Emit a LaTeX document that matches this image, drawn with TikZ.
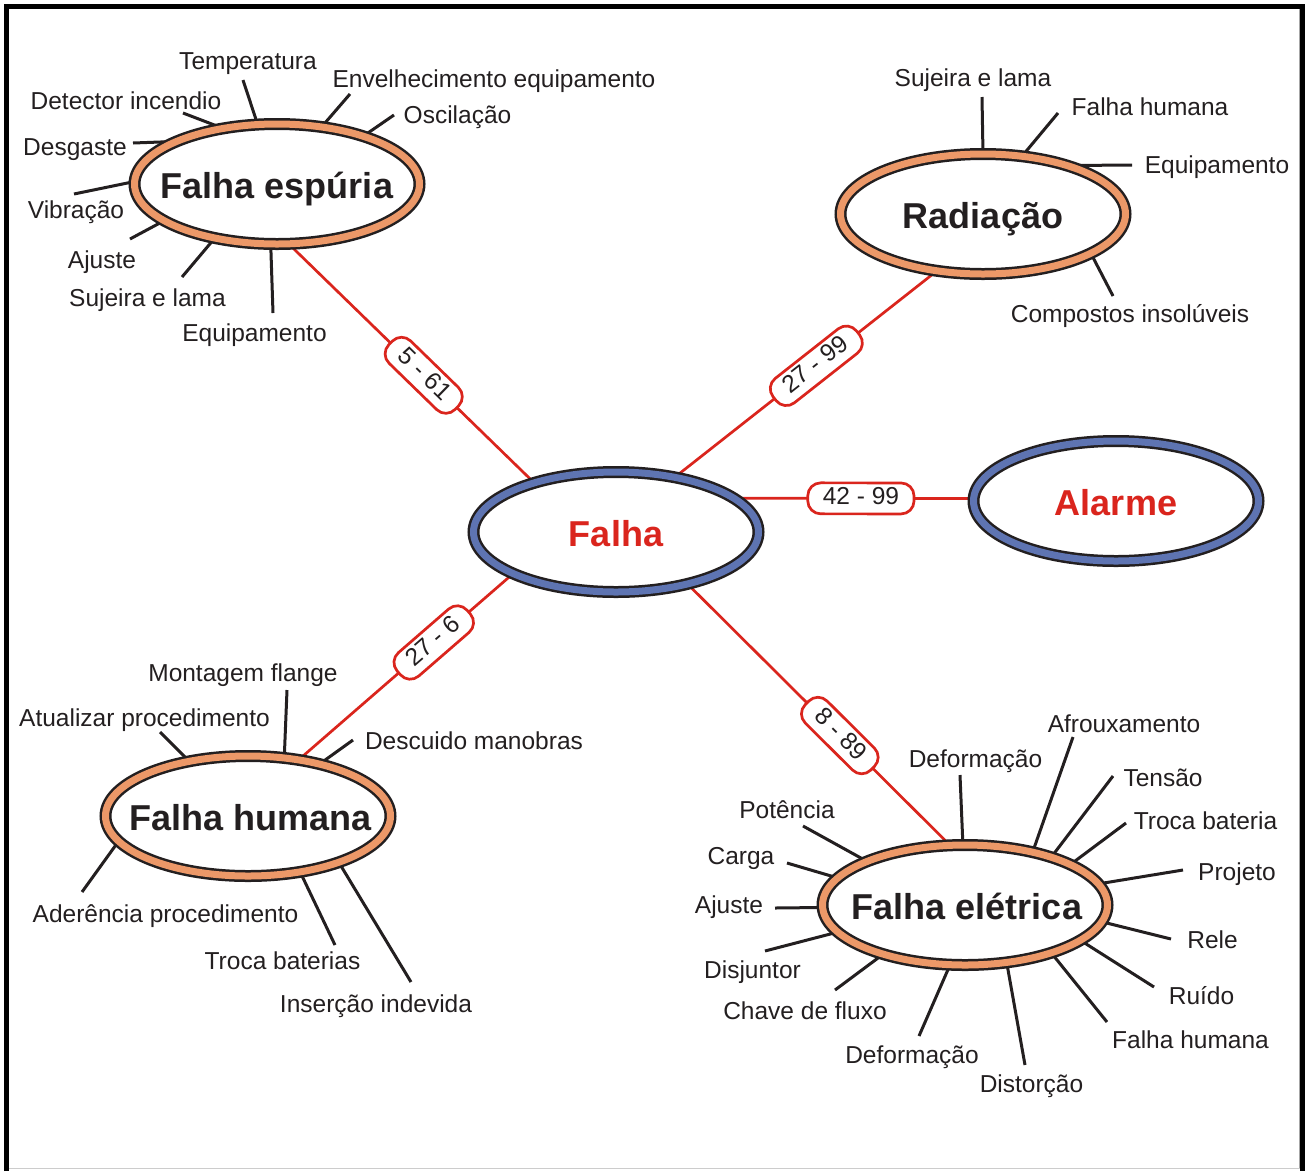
\documentclass[tikz,border=0pt]{standalone}
\usepackage{fontspec}
\setmainfont{Liberation Sans}
\usetikzlibrary{backgrounds,shapes.geometric}
\definecolor{ored}{RGB}{218,37,29}
\definecolor{oorange}{RGB}{236,152,104}
\definecolor{oblue}{RGB}{94,116,178}
\definecolor{oink}{RGB}{35,31,32}
\tikzset{
  hub/.style={ellipse, draw=oink, line width=2.5pt, double distance=7pt, fill=white,
    minimum width=285pt, minimum height=120pt, inner sep=0pt, outer sep=0pt,
    text height=29pt, text depth=0pt, font=\fontsize{36pt}{40pt}\selectfont\bfseries},
  hubor/.style={hub, double=oorange, text=oink},
  hubbl/.style={hub, double=oblue, text=ored},
  leaf/.style={font=\fontsize{24.5pt}{29pt}\selectfont, text=oink, inner sep=0pt,
    text height=17.5pt, text depth=5pt},
  spoke/.style={draw=oink, line width=3pt},
  link/.style={draw=ored, line width=2.7pt},
  tag/.style={draw=ored, line width=2.7pt, fill=white, rounded corners=13pt,
    font=\fontsize{24.5pt}{29pt}\selectfont, text=oink, inner xsep=15pt, inner ysep=0pt,
    minimum height=31pt, text height=17.5pt, text depth=5pt, sloped},
}
\begin{document}
\begin{tikzpicture}[x=1pt,y=-1pt]
\useasboundingbox (0,0) rectangle (1309,1171);
% hubs
\node[hubor] (fe)  at (277,184)  {\makebox[0pt]{Falha espúria}};
\node[hubor] (rad) at (983,214)  {\makebox[0pt]{Radiação}};
\node[hubbl] (fa)  at (616,532)  {\makebox[0pt]{Falha}};
\node[hubbl] (al)  at (1116,501) {\makebox[0pt]{Alarme}};
\node[hubor] (fh)  at (248,816)  {\makebox[0pt]{\hspace{5pt}Falha humana}};
\node[hubor] (fel) at (965,905)  {\makebox[0pt]{\hspace{4pt}Falha elétrica}};
% leaves of Falha espuria
\node[leaf] (fe-l1) at (248,63)  {Temperatura};
\node[leaf] (fe-l2) at (494,81)  {Envelhecimento equipamento};
\node[leaf] (fe-l3) at (457.5,117) {Oscilação};
\node[leaf] (fe-l4) at (126,103) {Detector incendio};
\node[leaf] (fe-l5) at (75,149)  {Desgaste};
\node[leaf] (fe-l6) at (76,212)  {Vibração};
\node[leaf] (fe-l7) at (102,262) {Ajuste};
\node[leaf] (fe-l8) at (147.5,300) {Sujeira e lama};
\node[leaf] (fe-l9) at (254.5,335) {Equipamento};
% leaves of Radiacao
\node[leaf] (rad-l1) at (973,80)   {Sujeira e lama};
\node[leaf] (rad-l2) at (1150,109) {Falha humana};
\node[leaf] (rad-l3) at (1217,167) {Equipamento};
\node[leaf] (rad-l4) at (1130,316) {Compostos insolúveis};
% leaves of Falha humana
\node[leaf] (fh-l1) at (243,675)   {Montagem flange};
\node[leaf] (fh-l2) at (144.5,720) {Atualizar procedimento};
\node[leaf] (fh-l3) at (474,743)   {Descuido manobras};
\node[leaf] (fh-l4) at (165.5,916) {Aderência procedimento};
\node[leaf] (fh-l5) at (282.5,963) {Troca baterias};
\node[leaf] (fh-l6) at (376,1006)  {Inserção indevida};
% leaves of Falha eletrica
\node[leaf] (fel-l1)  at (975.5,761) {Deformação};
\node[leaf] (fel-l2)  at (787,812)   {Potência};
\node[leaf] (fel-l3)  at (741,858)   {Carga};
\node[leaf] (fel-l4)  at (729,907)   {Ajuste};
\node[leaf] (fel-l5)  at (752.5,972) {Disjuntor};
\node[leaf] (fel-l6)  at (805,1013)  {Chave de fluxo};
\node[leaf] (fel-l7)  at (912,1057)  {Deformação};
\node[leaf] (fel-l8)  at (1124,726)  {Afrouxamento};
\node[leaf] (fel-l9)  at (1163,780)  {Tensão};
\node[leaf] (fel-l10) at (1205.5,823) {Troca bateria};
\node[leaf] (fel-l11) at (1237,874)  {Projeto};
\node[leaf] (fel-l12) at (1212.5,942) {Rele};
\node[leaf] (fel-l13) at (1201.5,998) {Ruído};
\node[leaf] (fel-l14) at (1190.5,1042) {Falha humana};
\node[leaf] (fel-l15) at (1031.5,1086) {Distorção};
\begin{scope}[on background layer]
  % frame
  \draw[line width=5pt, black] (6.5,1171) -- (6.5,6.5) -- (1302.5,6.5) -- (1302.5,1171);
  \draw[line width=1pt, black!35] (1299.5,9) -- (1299.5,1168);
  \draw[line width=1.5pt, black!20] (9,1168.5) -- (1300,1168.5);
  % spokes
  \foreach \a/\x/\y [count=\i] in {108/243/80, 52/350/94, 29/394/115, 134/183/113,
      157/133/143, 179/74/194, 198/130/239, 221/182/277, 264/273/313}
    {\coordinate (fe-e\i) at (\x,\y); \draw[spoke] (fe.\a) -- (fe-e\i);}
  \foreach \a/\x/\y [count=\i] in {90/982/97, 56/1058/113, 30/1132/165, 340/1113/296}
    {\coordinate (rad-e\i) at (\x,\y); \draw[spoke] (rad.\a) -- (rad-e\i);}
  \foreach \a/\x/\y [count=\i] in {58/287/690, 137/160/732, 36/353/740, 191/82/892,
      313/335/945, 333/411/982}
    {\coordinate (fh-e\i) at (\x,\y); \draw[spoke] (fh.\a) -- (fh-e\i);}
  \foreach \a/\x/\y [count=\i] in {92/960/775, 156/803/826, 168/787/863, 181/775/908,
      192/765/951, 211/835/990, 256/919/1036, 38/1073/737, 29/1113/776, 21/1126/823,
      9/1183/870, 353/1171/939, 343/1154/987, 331/1107/1022, 306/1025/1065}
    {\coordinate (fel-e\i) at (\x,\y); \draw[spoke] (fel.\a) -- (fel-e\i);}
  % red links
  \draw[link] (fe.281) -- node[tag, pos=.55] (t1) {5 - 61} (fa.149);
  \draw[link] (rad.231) -- node[tag, pos=.46] (t2) {27 - 99} (fa.43);
  \draw[link] (fa.16) -- node[tag, pos=.53] (t3) {42 - 99} (al.179);
  \draw[link] (fa.202) -- node[tag, pos=.37] (t4) {27 - 6} (fh.48);
  \draw[link] (fa.324) -- node[tag, pos=.58] (t5) {8 - 89} (fel.104);
\end{scope}
\end{tikzpicture}
\end{document}
